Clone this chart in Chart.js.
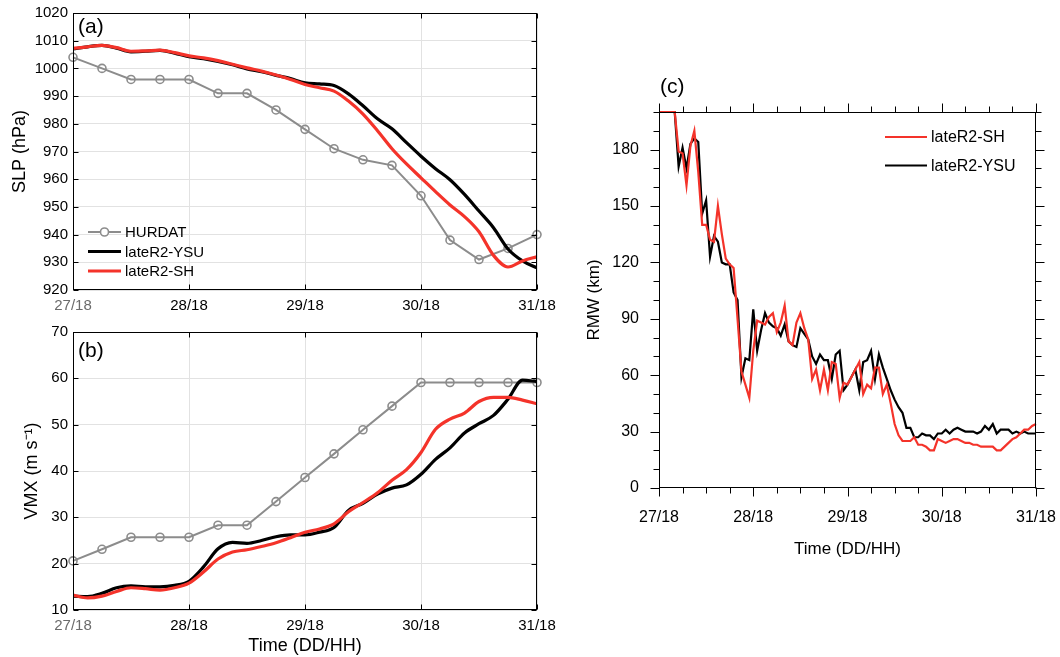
<!DOCTYPE html>
<html>
<head>
<meta charset="utf-8">
<script src="https://cdn.jsdelivr.net/npm/chart.js@4.4.0/dist/chart.umd.min.js"></script>
<style>
    html, body { margin: 0; padding: 0; background: #fff; }
    #wrap { position: relative; width: 1060px; height: 657px; }
    .panel { position: absolute; }
</style>
</head>
<body>
<div id="wrap">
    <div class="panel" style="left:0;top:0;width:560px;height:320px"><canvas id="slpChart"></canvas></div>
    <div class="panel" style="left:0;top:320px;width:560px;height:337px"><canvas id="vmxChart"></canvas></div>
    <div class="panel" style="left:560px;top:60px;width:500px;height:500px"><canvas id="rmwChart"></canvas></div>
</div>
<script>
// ======================= DATA =======================
const xTickLabels = ["27/18", "28/18", "29/18", "30/18", "31/18"];

// HURDAT best track, every 6 h
const hurdatHours = [0, 6, 12, 18, 24, 30, 36, 42, 48, 54, 60, 66, 72, 78, 84, 90, 96];
const hurdatSLP = [1004, 1000, 996, 996, 996, 991, 991, 985, 978, 971, 967, 965, 954, 938, 931, 935, 940];
const hurdatVMX = [20.6, 23.1, 25.7, 25.7, 25.7, 28.3, 28.3, 33.4, 38.6, 43.7, 48.9, 54.0, 59.1, 59.1, 59.1, 59.1, 59.1];

// model runs, every 3 h
const modelHours = [0, 3, 6, 9, 12, 15, 18, 21, 24, 27, 30, 33, 36, 39, 42, 45, 48,
    51, 54, 57, 60, 63, 66, 69, 72, 75, 78, 81, 84, 87, 90, 93, 96];
const ysuSLP = [1007.0, 1007.8, 1008.3, 1007.3, 1006.0, 1006.2, 1006.5, 1005.5, 1004.2, 1003.5, 1002.5,
    1001.3, 999.8, 998.8, 997.5, 996.3, 994.8, 994.4, 993.8, 990.8, 986.5, 981.8, 978.2, 973.2,
    968.3, 963.8, 959.8, 954.5, 948.5, 942.5, 934.8, 930.5, 928.0];
const shSLP = [1007.2, 1007.8, 1008.3, 1007.5, 1006.2, 1006.3, 1006.6, 1005.7, 1004.5, 1003.8, 1002.8,
    1001.5, 1000.2, 999.0, 997.6, 996.0, 994.2, 993.0, 991.8, 988.2, 983.5, 977.5, 971.0, 965.5,
    960.5, 955.5, 950.7, 946.5, 941.0, 932.5, 928.3, 930.5, 932.0];
const ysuVMX = [13.0, 12.9, 13.6, 14.8, 15.2, 15.0, 15.0, 15.3, 16.2, 19.3, 23.2, 24.6, 24.4, 25.0, 25.8,
    26.2, 26.2, 26.8, 27.8, 31.5, 33.0, 35.0, 36.3, 37.0, 39.3, 42.5, 45.0, 48.2, 50.2, 52.0, 55.5, 59.6, 59.3];
const shVMX = [13.2, 12.6, 13.0, 14.0, 14.8, 14.6, 14.3, 14.8, 15.8, 18.2, 21.0, 22.5, 23.0, 23.7, 24.5,
    25.6, 26.8, 27.5, 28.6, 31.2, 33.2, 35.3, 38.0, 40.3, 44.0, 49.0, 51.2, 52.5, 55.0, 55.9, 55.9, 55.3, 54.5];

// RMW, hourly
const rmwHours = [0, 1, 2, 3, 4, 5, 6, 7, 8, 9, 10, 11, 12, 13, 14, 15, 16, 17, 18, 19, 20, 21, 22, 23, 24,
    25, 26, 27, 28, 29, 30, 31, 32, 33, 34, 35, 36, 37, 38, 39, 40, 41, 42, 43, 44, 45, 46, 47, 48,
    49, 50, 51, 52, 53, 54, 55, 56, 57, 58, 59, 60, 61, 62, 63, 64, 65, 66, 67, 68, 69, 70, 71, 72,
    73, 74, 75, 76, 77, 78, 79, 80, 81, 82, 83, 84, 85, 86, 87, 88, 89, 90, 91, 92, 93, 94, 95, 96];
const ysuRMW = [200, 200, 200, 200, 200, 171, 181, 170, 183, 186, 184, 146, 153, 123, 134, 131, 120, 119,
    119, 104, 100, 59, 69, 68, 95, 73, 84, 93, 88, 86, 85, 81, 87, 78, 76, 75, 85, 82, 79, 70, 66, 71, 68,
    68, 58, 71, 73, 52, 55, 59, 63, 52, 67, 68, 73, 58, 71, 64, 58, 52, 47, 43, 40, 32, 32, 27, 27, 29, 28,
    28, 26, 29, 29, 31, 29, 31, 32, 31, 30, 30, 30, 29, 30, 33, 31, 34, 29, 31, 31, 31, 29, 30, 29, 30, 29, 29, 29];
const shRMW = [200, 200, 200, 200, 200, 179, 178, 161, 182, 190, 168, 140, 140, 132, 131, 150, 135, 122,
    119, 117, 90, 62, 55, 48, 73, 89, 88, 87, 91, 93, 83, 88, 97, 78, 76, 88, 93, 85, 79, 58, 63, 52, 63,
    52, 67, 66, 48, 56, 55, 59, 63, 67, 50, 55, 53, 64, 64, 50, 55, 45, 34, 28, 25, 25, 25, 27, 23, 23, 22,
    20, 20, 26, 25, 24, 25, 26, 26, 25, 24, 24, 23, 23, 22, 22, 22, 22, 20, 20, 22, 24, 26, 27, 29, 31, 31, 33, 34];

// ======================= STYLE =======================
const GRAY = "#8c8c8c";
const RED = "#f4332a";
const BLACK = "#000000";
const FONT = "'Liberation Sans', Arial, sans-serif";
Chart.defaults.font.family = FONT;
Chart.defaults.color = "#000";

function pts(xs, ys) {
    return xs.map((x, i) => ({ x: x, y: ys[i] }));
}

// giữ vùng vẽ đúng chỗ: bỏ phần đệm do nhãn tràn ra ngoài
function fixX(h) {
    return s => { s.height = h; s.paddingLeft = 0; s.paddingRight = 0; };
}
function fixY(w) {
    return s => { s.width = w; s.paddingTop = 0; s.paddingBottom = 0; };
}

// ==== khung, vạch chia, nhãn (a)/(b)/(c), chú thích ====
const decoPlugin = {
    id: "deco",
    afterDraw(chart, args, o) {
        const { ctx, chartArea: a, scales } = chart;
        const L = Math.round(a.left) + 0.5, R = Math.round(a.right) - 0.5;
        const T = Math.round(a.top) + 0.5, B = Math.round(a.bottom) - 0.5;
        ctx.save();
        ctx.strokeStyle = "#000";
        ctx.lineWidth = 1;
        ctx.strokeRect(L, T, R - L, B - T);

        // tick marks
        ctx.beginPath();
        o.xTicks.forEach(t => {
            const px = Math.round(scales.x.getPixelForValue(t.v)) + 0.5;
            ctx.moveTo(px, B); ctx.lineTo(px, B + o.dir * t.len);
            ctx.moveTo(px, T); ctx.lineTo(px, T - o.dir * t.len);
        });
        o.yTicks.forEach(t => {
            const py = Math.round(scales.y.getPixelForValue(t.v)) + 0.5;
            ctx.moveTo(L, py); ctx.lineTo(L - o.dir * t.len, py);
            ctx.moveTo(R, py); ctx.lineTo(R + o.dir * t.len, py);
        });
        ctx.stroke();

        // panel tag
        ctx.fillStyle = "#000";
        ctx.font = "21px " + FONT;
        ctx.textBaseline = "middle";
        ctx.textAlign = "left";
        ctx.fillText(o.tag.text, o.tag.x, o.tag.y);

        // legend
        if (o.legend) {
            const lg = o.legend;
            ctx.font = lg.size + "px " + FONT;
            lg.items.forEach((idx, row) => {
                const ds = chart.data.datasets[idx];
                const y = lg.y + row * lg.rowH;
                ctx.strokeStyle = ds.borderColor;
                ctx.lineWidth = ds.borderWidth;
                ctx.beginPath();
                ctx.moveTo(lg.x, y); ctx.lineTo(lg.x + lg.len, y);
                ctx.stroke();
                if (ds.pointRadius > 0) {
                    ctx.lineWidth = ds.pointBorderWidth;
                    ctx.fillStyle = "#fff";
                    ctx.beginPath();
                    ctx.arc(lg.x + lg.len / 2, y, ds.pointRadius, 0, Math.PI * 2);
                    ctx.fill(); ctx.stroke();
                }
                ctx.fillStyle = "#000";
                ctx.fillText(ds.label, lg.x + lg.len + 4, y + 1);
            });
        }
        ctx.restore();
    }
};

// ======================= PANEL (a), (b) =======================
function leftPanel(canvasId, cfg) {
    const ticksOf = (min, max, step) => {
        const out = [];
        for (let v = min; v <= max; v += step) out.push({ v: v, len: 5 });
        return out;
    };
    return new Chart(document.getElementById(canvasId), {
        type: "line",
        data: {
            datasets: [
                {
                    label: "HURDAT", data: pts(hurdatHours, cfg.obs), order: 3,
                    borderColor: GRAY, borderWidth: 2, pointRadius: 4, pointBorderWidth: 1.6,
                    pointBorderColor: GRAY, pointBackgroundColor: "rgba(255,255,255,0)", clip: false
                },
                {
                    label: "lateR2-YSU", data: pts(modelHours, cfg.ysu), order: 2,
                    borderColor: BLACK, borderWidth: 3.2, pointRadius: 0, cubicInterpolationMode: "monotone"
                },
                {
                    label: "lateR2-SH", data: pts(modelHours, cfg.sh), order: 1,
                    borderColor: RED, borderWidth: 3.2, pointRadius: 0, cubicInterpolationMode: "monotone"
                }
            ]
        },
        options: {
            responsive: true,
            maintainAspectRatio: false,
            animation: false,
            layout: { padding: { top: cfg.padTop, right: 23, left: 0, bottom: 0 } },
            plugins: {
                legend: { display: false },
                tooltip: { enabled: false },
                deco: {
                    dir: -1,
                    xTicks: ticksOf(0, 96, 24),
                    yTicks: ticksOf(cfg.yMin, cfg.yMax, 10),
                    tag: cfg.tag,
                    legend: cfg.legend
                }
            },
            scales: {
                x: {
                    type: "linear", min: 0, max: 96,
                    afterFit: fixX(cfg.xHeight),
                    grid: { color: "#e2e2e2", drawTicks: false },
                    border: { display: false },
                    ticks: {
                        stepSize: 24, padding: 7, maxRotation: 0,
                        font: { size: 15 },
                        color: c => (c.index === 0 ? "#6b6b6b" : "#000"),
                        callback: (v, i) => xTickLabels[i]
                    },
                    title: {
                        display: cfg.showXTitle, text: "Time (DD/HH)",
                        font: { size: 18 }, padding: { top: 0, bottom: 0 }
                    }
                },
                y: {
                    min: cfg.yMin, max: cfg.yMax,
                    afterFit: fixY(73),
                    grid: { color: "#e2e2e2", drawTicks: false },
                    border: { display: false },
                    ticks: { stepSize: 10, padding: 5, font: { size: 15 }, callback: v => String(v) },
                    title: {
                        display: true, text: cfg.yTitle,
                        font: { size: 18 }, padding: { top: cfg.titlePad, bottom: 0 }
                    }
                }
            }
        },
        plugins: [decoPlugin]
    });
}

leftPanel("slpChart", {
    obs: hurdatSLP, ysu: ysuSLP, sh: shSLP,
    yMin: 920, yMax: 1020, yTitle: "SLP (hPa)", titlePad: 9,
    padTop: 13, xHeight: 30, showXTitle: false,
    tag: { text: "(a)", x: 78, y: 27 },
    legend: { x: 88, y: 232, rowH: 19.5, len: 33, size: 15, items: [0, 1, 2] }
});

leftPanel("vmxChart", {
    obs: hurdatVMX, ysu: ysuVMX, sh: shVMX,
    yMin: 10, yMax: 70, yTitle: "VMX (m s⁻¹)", titlePad: 21,
    padTop: 12, xHeight: 47, showXTitle: true,
    tag: { text: "(b)", x: 78, y: 31 },
    legend: null
});

// ======================= PANEL (c) =======================
const rmwXTicks = [];
for (let h = 0; h <= 96; h += 6) rmwXTicks.push({ v: h, len: h % 24 === 0 ? 9 : 6 });
const rmwYTicks = [];
for (let v = 0; v <= 200; v += 10) rmwYTicks.push({ v: v, len: v % 30 === 0 ? 9 : 6 });

new Chart(document.getElementById("rmwChart"), {
    type: "line",
    data: {
        datasets: [
            {
                label: "lateR2-SH", data: pts(rmwHours, shRMW), order: 1,
                borderColor: RED, borderWidth: 2.2, pointRadius: 0, tension: 0, clip: false
            },
            {
                label: "lateR2-YSU", data: pts(rmwHours, ysuRMW), order: 2,
                borderColor: BLACK, borderWidth: 2.2, pointRadius: 0, tension: 0, clip: false
            }
        ]
    },
    options: {
        responsive: true,
        maintainAspectRatio: false,
        animation: false,
        layout: { padding: { top: 52, right: 24, left: 0, bottom: 0 } },
        plugins: {
            legend: { display: false },
            tooltip: { enabled: false },
            deco: {
                dir: 1,
                xTicks: rmwXTicks,
                yTicks: rmwYTicks,
                tag: { text: "(c)", x: 100, y: 27 },
                legend: { x: 325, y: 77, rowH: 28.5, len: 42, size: 16, items: [0, 1] }
            }
        },
        scales: {
            x: {
                type: "linear", min: 0, max: 96,
                afterFit: fixX(72),
                grid: { display: false, drawTicks: false },
                border: { display: false },
                ticks: {
                    stepSize: 24, padding: 20, maxRotation: 0, font: { size: 16 },
                    callback: (v, i) => xTickLabels[i]
                },
                title: { display: true, text: "Time (DD/HH)", font: { size: 17 }, padding: { top: 0, bottom: 0 } }
            },
            y: {
                min: 0, max: 200,
                afterFit: fixY(99),
                grid: { display: false, drawTicks: false },
                border: { display: false },
                ticks: {
                    stepSize: 10, padding: 20, autoSkip: false, font: { size: 16 },
                    callback: v => (v % 30 === 0 ? String(v) : "")
                },
                title: { display: true, text: "RMW (km)", font: { size: 17 }, padding: { top: 24, bottom: 0 } }
            }
        }
    },
    plugins: [decoPlugin]
});
</script>
</body>
</html>
